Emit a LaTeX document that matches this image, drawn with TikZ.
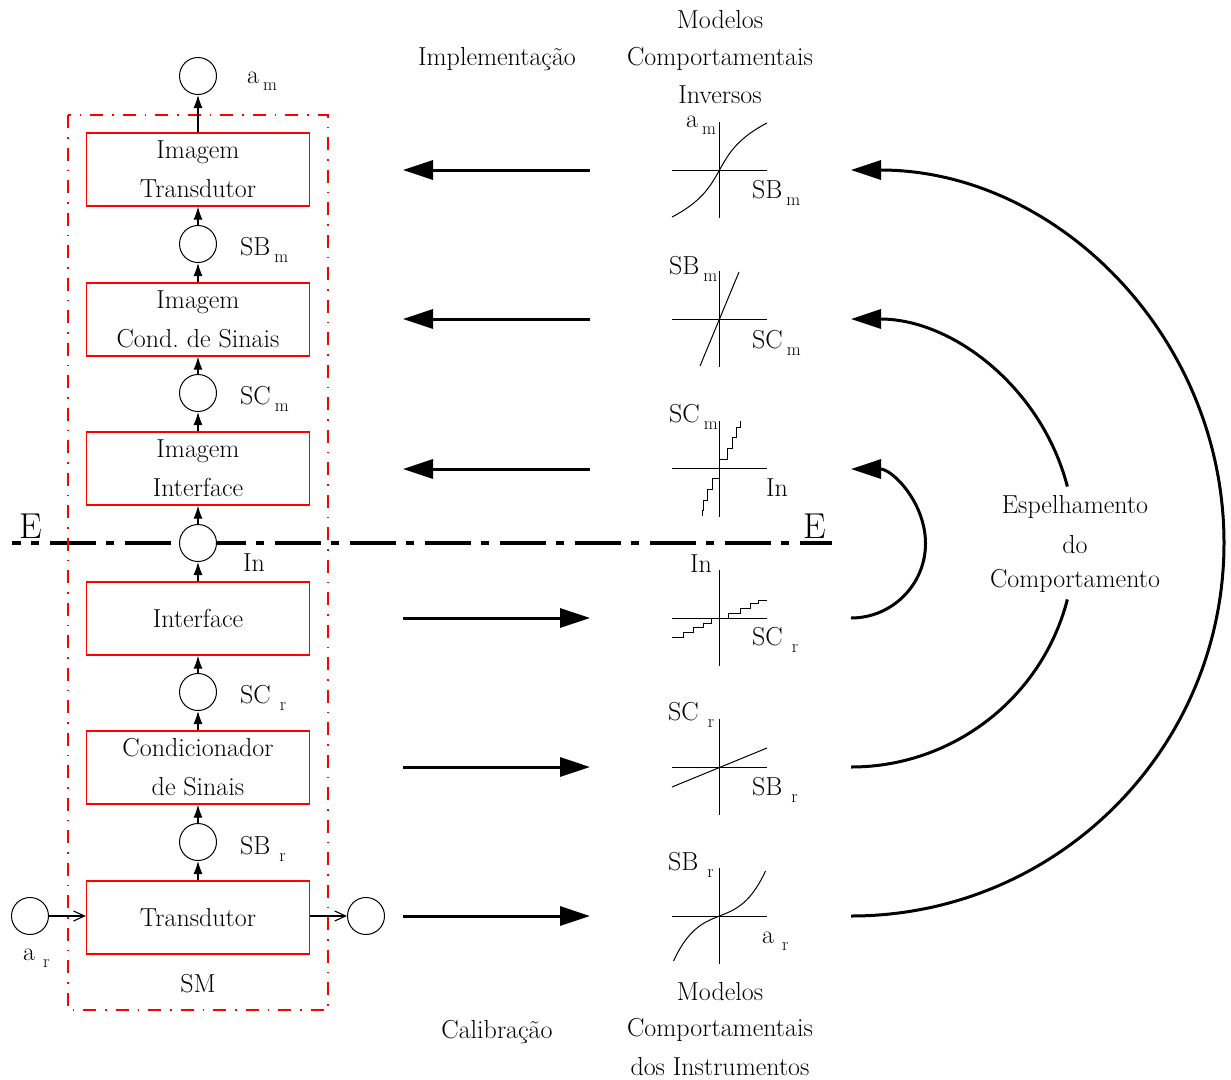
\documentclass[tikz,border=0pt]{standalone}
\usepackage{fontspec}
\usetikzlibrary{arrows.meta}
% label with a lowered, smaller index
\newcommand{\lsub}[3][4pt]{#2\hspace{#1}\raisebox{-7pt}{\fontsize{18}{18}\selectfont #3}}
\begin{document}
\begin{tikzpicture}[x=1pt,y=-1pt,
  txt/.style={font=\fontsize{26}{39}\selectfont, inner sep=0pt, anchor=base},
  lab/.style={font=\fontsize{26}{26}\selectfont, inner sep=0pt, anchor=base west},
  blk/.style={draw=red, line width=1.3pt, minimum width=223pt, minimum height=73pt,
              align=center, inner sep=0pt, font=\fontsize{26}{39}\selectfont},
  sig/.style={draw=black, circle, fill=white, minimum size=37pt, inner sep=0pt, line width=1pt},
  lnk/.style={line width=1.1pt, -{Latex[length=13pt,width=9pt]}},
  opn/.style={line width=1.1pt, -{Straight Barb[length=11pt,width=10pt]}},
  big/.style={line width=3pt, -{Triangle[length=30pt,width=19pt]}},
  bigrev/.style={line width=3pt, {Triangle[length=30pt,width=19pt]}-},
  ax/.style={line width=1pt},
  crv/.style={line width=1pt},
]
\useasboundingbox (0,0) rectangle (1231,1079);

% mirror line E-E
\coordinate (eL) at (12,543);
\coordinate (eR) at (832,543);
\draw[line width=3.2pt, dash pattern=on 46pt off 10pt on 8pt off 11pt, dash phase=37pt] (eL) -- (eR);
\node[font=\fontsize{36}{36}\selectfont, inner sep=0pt, anchor=base] (eLt) at (31,538) {E};
\node[font=\fontsize{36}{36}\selectfont, inner sep=0pt, anchor=base] (eRt) at (814.5,538) {E};

% measurement system boundary
\draw[red, line width=1.2pt, dash pattern=on 13pt off 9pt on 1.5pt off 9pt] (68,115) rectangle (328,1010);
\node[txt] (sm) at (198,992) {SM};

% blocks
\node[blk] (bIT) at (198,169.5) {Imagem\\Transdutor};
\node[blk] (bIC) at (198,319.5) {Imagem\\Cond.\ de Sinais};
\node[blk] (bII) at (198,468.5) {Imagem\\Interface};
\node[blk] (bIf) at (198,618.5) {Interface};
\node[blk] (bCS) at (198,767.5) {Condicionador\\de Sinais};
\node[blk] (bTr) at (198,917.5) {Transdutor};

% signals
\node[sig] (cAm)  at (198,76)  {};
\node[sig] (cSBm) at (198,244) {};
\node[sig] (cSCm) at (198,393) {};
\node[sig] (cIn)  at (198,543) {};
\node[sig] (cSCr) at (198,692) {};
\node[sig] (cSBr) at (198,842) {};
\node[sig] (cAr)  at (30,916)  {};
\node[sig] (cOut) at (366,916) {};

% signal flow
\draw[opn] (cAr.east) -- (cAr.east -| bTr.west);
\draw[opn] (bTr.east |- cOut.west) -- (cOut.west);
\draw[lnk] (bTr.north) -- (cSBr.south);
\draw[lnk] (cSBr.north) -- (bCS.south);
\draw[lnk] (bCS.north) -- (cSCr.south);
\draw[lnk] (cSCr.north) -- (bIf.south);
\draw[lnk] (bIf.north) -- (cIn.south);
\draw[lnk] (cIn.north) -- (bII.south);
\draw[lnk] (bII.north) -- (cSCm.south);
\draw[lnk] (cSCm.north) -- (bIC.south);
\draw[lnk] (bIC.north) -- (cSBm.south);
\draw[lnk] (cSBm.north) -- (bIT.south);
\draw[lnk] (bIT.north) -- (cAm.south);

% signal labels
\node[lab] (tAm)  at (247,83)  {\lsub{a}{m}};
\node[lab] (tSBm) at (240,255) {\lsub{SB}{m}};
\node[lab] (tSCm) at (240,404) {\lsub{SC}{m}};
\node[lab] (tIn)  at (243,571) {In};
\node[lab] (tSCr) at (240,703) {\lsub[9pt]{SC}{r}};
\node[lab] (tSBr) at (240,854) {\lsub[9pt]{SB}{r}};
\node[lab] (tAr)  at (23,960)  {\lsub[8pt]{a}{r}};

% headings
\node[txt] (hImp) at (497,65) {Implementação};
\node[txt] (hM1)  at (720,28) {Modelos};
\node[txt] (hM2)  at (720,65) {Comportamentais};
\node[txt] (hM3)  at (720,103) {Inversos};
\node[txt] (hCal) at (497,1038) {Calibração};
\node[txt] (hB1)  at (720,1000) {Modelos};
\node[txt] (hB2)  at (720,1036) {Comportamentais};
\node[txt] (hB3)  at (720,1075) {dos Instrumentos};
\node[txt] (hE1)  at (1075,513) {Espelhamento};
\node[txt] (hE2)  at (1075,553) {do};
\node[txt] (hE3)  at (1075,587) {Comportamento};

% implementation / calibration arrows
\foreach \n/\yy in {1/170,2/319,3/469,4/618,5/767,6/916}{
  \coordinate (L\n) at (403,\yy);
  \coordinate (R\n) at (590,\yy);
  \coordinate (G\n) at (851,\yy);
}
\draw[big] (R1) -- (L1);
\draw[big] (R2) -- (L2);
\draw[big] (R3) -- (L3);
\draw[big] (L4) -- (R4);
\draw[big] (L5) -- (R5);
\draw[big] (L6) -- (R6);

% behaviour models: axes
\foreach \yy in {170,319,468.5,618,767,916}{
  \draw[ax] (672,\yy) -- (767,\yy);
  \draw[ax] (719.5,\yy-48) -- (719.5,\yy+48);
}
% inverse transducer
\draw[crv] plot[domain=-1:1, samples=41, smooth, variable=\t]
  ({719.5+47.5*(0.55*\t+0.45*\t*\t*\t)}, {170-47*\t});
% inverse conditioner
\draw[crv] (700,366) -- (739,272);
% inverse interface
\draw[crv] (719.5,459) -- (727,459) -- (727,448) -- (732,448) -- (732,437) -- (736,437) -- (736,427) -- (740,427) -- (740,421);
\draw[crv] (719.5,478) -- (712,478) -- (712,489) -- (707,489) -- (707,500) -- (703,500) -- (703,510) -- (702,510) -- (702,516);
% interface
\draw[crv] (728,618) -- (728,613) -- (740,613) -- (740,608) -- (750,608) -- (750,603) -- (758,603) -- (758,600) -- (767,600);
\draw[crv] (711,618) -- (711,623) -- (703,623) -- (703,627) -- (693,627) -- (693,632) -- (683,632) -- (683,637) -- (672,637);
% conditioner
\draw[crv] (672,787) -- (767,748);
% transducer
\draw[crv] plot[domain=-1:1, samples=41, smooth, variable=\t]
  ({719.5+46*\t}, {916-45*(0.4*\t+0.6*\t*\t*\t)});

% model labels
\node[lab] (m1a) at (686,127) {\lsub{a}{m}};
\node[lab] (m1b) at (752,198) {\lsub{SB}{m}};
\node[lab] (m2a) at (669,274) {\lsub{SB}{m}};
\node[lab] (m2b) at (752,348) {\lsub{SC}{m}};
\node[lab] (m3a) at (669,422) {\lsub{SC}{m}};
\node[lab] (m3b) at (766,496) {In};
\node[lab] (m4a) at (690,572) {In};
\node[lab] (m4b) at (752,645) {\lsub[9pt]{SC}{r}};
\node[lab] (m5a) at (668,720) {\lsub[9pt]{SC}{r}};
\node[lab] (m5b) at (752,795) {\lsub[9pt]{SB}{r}};
\node[lab] (m6a) at (668,870) {\lsub[9pt]{SB}{r}};
\node[lab] (m6b) at (762,943) {\lsub[8pt]{a}{r}};

% mirroring arcs
\draw[big] (G6) arc[start angle=-90, end angle=90, radius=373pt];
\draw[line width=3pt] (G5) arc[start angle=-90, end angle=-14.5, radius=223.5pt];
\draw[bigrev] (G2) arc[start angle=90, end angle=14.5, radius=223.5pt];
\draw[big] (G4) arc[start angle=-90, end angle=90, radius=74.5pt];
\end{tikzpicture}
\end{document}
